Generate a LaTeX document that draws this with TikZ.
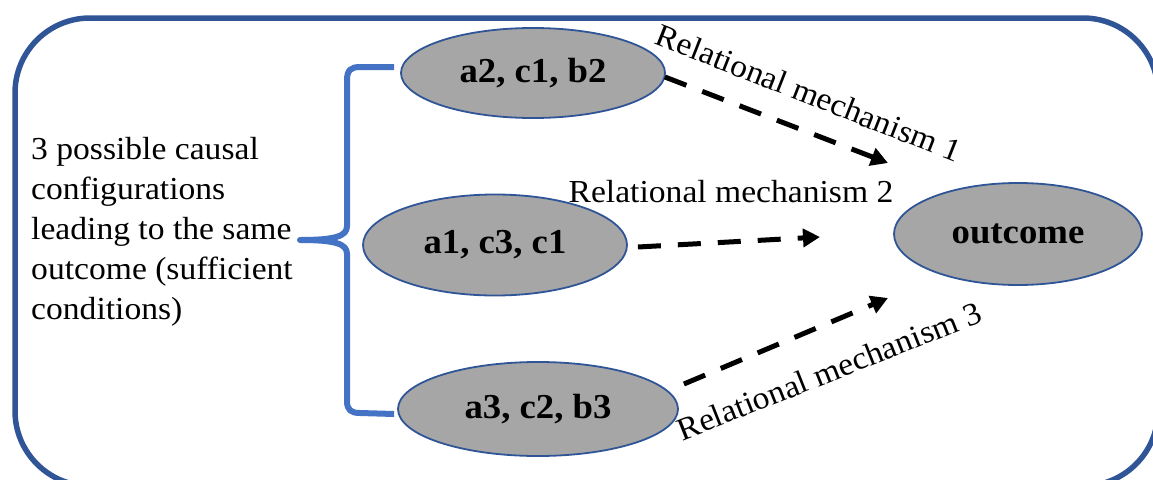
\documentclass[tikz,border=0pt]{standalone}
\usepackage{fontspec}
\setmainfont{Liberation Serif}[FakeStretch=1.05]
\usetikzlibrary{shapes.geometric,arrows.meta,calc}
\definecolor{frameblue}{HTML}{2F5597}
\definecolor{braceblue}{HTML}{4472C4}
\definecolor{ellgray}{HTML}{A6A6A6}
\begin{document}
\begin{tikzpicture}[x=1pt,y=-1pt,
  config/.style={ellipse,draw=frameblue,line width=1.8pt,fill=ellgray,inner sep=0pt,
    font=\fontsize{35}{40}\selectfont\bfseries},
  mech/.style={draw=black,line width=5pt,dash pattern=on 23pt off 17pt,
    -{Triangle[length=17pt,width=18pt]}},
  lbl/.style={inner sep=0pt,font=\fontsize{32}{40}\selectfont},
]
\useasboundingbox (0,0) rectangle (1153,479);
\clip (0,0) rectangle (1153,479);
\draw[frameblue,line width=5.5pt,rounded corners=75pt] (15,18) rectangle (1158,486);

\node[config,minimum width=264pt,minimum height=90pt] (e1) at (533,73) {a2, c1, b2};
\node[config,minimum width=264pt,minimum height=101pt] (e2) at (495,245) {a1, c3, c1};
\node[config,minimum width=280pt,minimum height=94pt] (e3) at (538,409) {a3, c2, b3};
\node[config,minimum width=248pt,minimum height=102pt] (out) at (1018,234) {outcome};

\node[lbl,align=left,anchor=west] (desc) at (31,232)
  {3 possible causal\\configurations\\leading to the same\\outcome (sufficient\\conditions)};

\draw[braceblue,line width=6pt,line join=round]
  ($(e1.west)+(-6,-6)$) -- (360,67) .. controls (351,67) and (347,70) .. (347,80)
  -- (347,226) .. controls (347,236) and (336,240) .. (300,240)
  .. controls (336,240) and (347,244) .. (347,254)
  -- (347,401) .. controls (347,410) and (351,413) .. (360,413)
  -- ($(e3.west)+(-3,5)$);

\coordinate (t1) at (888,163);
\coordinate (t2) at (820,237);
\coordinate (t3) at (888,298);
\draw[mech] ($(e1.east)+(-1,4)$) -- (t1);
\draw[mech] ($(e2.east)+(10,2)$) -- (t2);
\draw[mech] ($(e3.east)+(5,-25)$) -- (t3);

\node[lbl,rotate=-21.5] (m1) at (809,93) {Relational mechanism 1};
\node[lbl] (m2) at (731,192) {Relational mechanism 2};
\node[lbl,rotate=21.7] (m3) at (829,371) {Relational mechanism 3};
\end{tikzpicture}
\end{document}
